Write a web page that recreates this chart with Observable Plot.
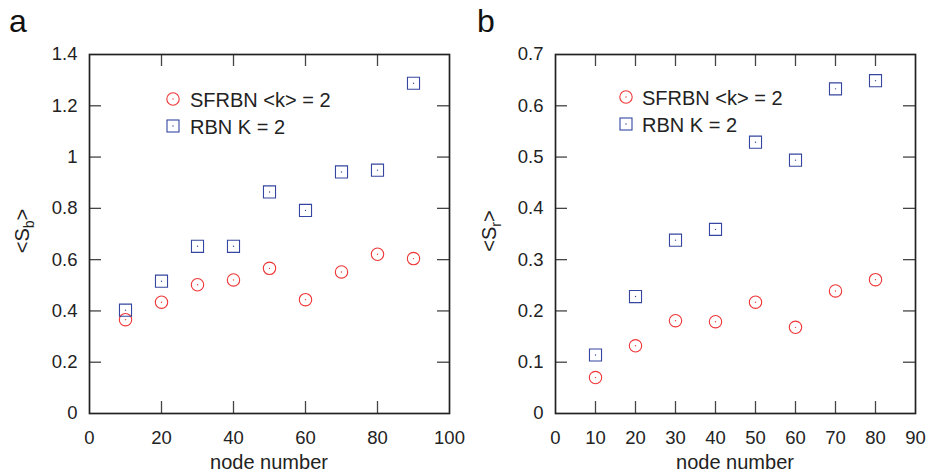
<!DOCTYPE html>
<html><head><meta charset="utf-8">
<script src="https://cdn.jsdelivr.net/npm/d3@7"></script>
<script src="https://cdn.jsdelivr.net/npm/@observablehq/plot@0.6"></script>
<style>
body{margin:0;background:#fff;}
#c{position:relative;width:927px;height:475px;font-family:"Liberation Sans",Arial,sans-serif;background:#fff;}
#c > svg{position:absolute;top:0;overflow:visible;}
</style></head><body><div id="c"></div>
<script>
// ---- data ----
const nodesA = [10, 20, 30, 40, 50, 60, 70, 80, 90];
const sfrbnA = [0.366, 0.434, 0.502, 0.521, 0.566, 0.444, 0.552, 0.621, 0.604];
const rbnA   = [0.403, 0.516, 0.652, 0.652, 0.864, 0.792, 0.942, 0.949, 1.288];

const nodesB = [10, 20, 30, 40, 50, 60, 70, 80];
const sfrbnB = [0.070, 0.132, 0.181, 0.179, 0.217, 0.168, 0.239, 0.261];
const rbnB   = [0.114, 0.228, 0.338, 0.359, 0.529, 0.494, 0.633, 0.649];

const xTicksA = [0, 20, 40, 60, 80, 100];
const yTicksA = [0, 0.2, 0.4, 0.6, 0.8, 1, 1.2, 1.4];
const xTicksB = [0, 10, 20, 30, 40, 50, 60, 70, 80, 90];
const yTicksB = [0, 0.1, 0.2, 0.3, 0.4, 0.5, 0.6, 0.7];

const seriesNames = ["SFRBN <k> = 2", "RBN K = 2"];
const seriesColors = ["#ee3535", "#3546a0"];
const xLabel = "node number";
const panelLetters = ["a", "b"];

const H = 475, MT = 54, MB = 62;
const fmt = d => String(+d.toFixed(2));

function panel({nodes, s1, s2, xDomain, yDomain, xTicks, yTicks, width, ml, mr}) {
  const iw = width - ml - mr, ih = H - MT - MB;
  const innerX = xTicks.slice(1, -1), innerY = yTicks.slice(1, -1);
  const d1 = nodes.map((x, i) => ({x, y: s1[i]}));
  const d2 = nodes.map((x, i) => ({x, y: s2[i]}));
  const tickStroke = "#444", tl = 12;
  return Plot.plot({
    width, height: H, marginLeft: ml, marginRight: mr, marginTop: MT, marginBottom: MB,
    style: {fontFamily: '"Liberation Sans", Arial, sans-serif', fontSize: "18.5px", color: "#222", background: "transparent", overflow: "visible"},
    x: {domain: xDomain},
    y: {domain: yDomain},
    marks: [
      Plot.ruleX(innerX, {x: d => d, insetTop: ih - tl, stroke: tickStroke, strokeWidth: 1.3}),
      Plot.ruleX(innerX, {x: d => d, insetBottom: ih - tl, stroke: tickStroke, strokeWidth: 1.3}),
      Plot.ruleY(innerY, {y: d => d, insetRight: iw - tl, stroke: tickStroke, strokeWidth: 1.3}),
      Plot.ruleY(innerY, {y: d => d, insetLeft: iw - tl, stroke: tickStroke, strokeWidth: 1.3}),
      Plot.frame({stroke: "#222", strokeWidth: 1.7}),
      Plot.axisX(xTicks, {anchor: "bottom", tickSize: 0, tickPadding: 17, tickFormat: fmt, label: null, fill: "#222"}),
      Plot.axisY(yTicks, {anchor: "left", tickSize: 0, tickPadding: 12, tickFormat: fmt, label: null, fill: "#222"}),
      Plot.dot(d1, {x: "x", y: "y", r: 6.2, symbol: "circle", stroke: seriesColors[0], strokeWidth: 1.1, fill: "none"}),
      Plot.dot(d1, {x: "x", y: "y", r: 0.7, fill: seriesColors[0]}),
      Plot.dot(d2, {x: "x", y: "y", r: 6.8, symbol: "square", stroke: seriesColors[1], strokeWidth: 1.1, fill: "none"}),
      Plot.dot(d2, {x: "x", y: "y", r: 0.7, fill: seriesColors[1]})
    ]
  });
}

const c = document.getElementById("c");
const pA = panel({nodes: nodesA, s1: sfrbnA, s2: rbnA, xDomain: [0, 100], yDomain: [0, 1.4],
  xTicks: xTicksA, yTicks: yTicksA, width: 463, ml: 89, mr: 14});
pA.style.left = "0px";
const pB = panel({nodes: nodesB, s1: sfrbnB, s2: rbnB, xDomain: [0, 90], yDomain: [0, 0.7],
  xTicks: xTicksB, yTicks: yTicksB, width: 464, ml: 92, mr: 12});
pB.style.left = "463px";
c.appendChild(pA);
c.appendChild(pB);

// ---- overlay: panel letters, axis titles, legends ----
const ov = d3.select(c).append("svg")
  .attr("width", 927).attr("height", H)
  .style("position", "absolute").style("left", "0px").style("top", "0px")
  .style("font-family", '"Liberation Sans", Arial, sans-serif').style("pointer-events", "none");

const panels = [
  {letterX: 9, yLabX: 29, sub: "b", xCenter: 269, legX: 173, legY: 99, textX: 190},
  {letterX: 477, yLabX: 496, sub: "r", xCenter: 735, legX: 626, legY: 97, textX: 642}
];
panels.forEach((p, i) => {
  ov.append("text").attr("x", p.letterX).attr("y", 32).attr("font-size", 32).attr("fill", "#111").text(panelLetters[i]);
  ov.append("text").attr("x", p.xCenter).attr("y", 469).attr("font-size", 20).attr("fill", "#222")
    .attr("text-anchor", "middle").text(xLabel);
  const t = ov.append("text").attr("transform", `translate(${p.yLabX},231) rotate(-90)`)
    .attr("font-size", 20).attr("fill", "#222").attr("text-anchor", "middle");
  t.append("tspan").text("<S");
  t.append("tspan").attr("font-size", 14).attr("dy", 5).text(p.sub);
  t.append("tspan").attr("dy", -5).text(">");
  // legend
  const rowH = 27;
  ov.append("circle").attr("cx", p.legX).attr("cy", p.legY).attr("r", 6.2)
    .attr("fill", "none").attr("stroke", seriesColors[0]).attr("stroke-width", 1.1);
  ov.append("circle").attr("cx", p.legX).attr("cy", p.legY).attr("r", 0.7).attr("fill", seriesColors[0]);
  ov.append("rect").attr("x", p.legX - 6).attr("y", p.legY + rowH - 6).attr("width", 12).attr("height", 12)
    .attr("fill", "none").attr("stroke", seriesColors[1]).attr("stroke-width", 1.1);
  ov.append("circle").attr("cx", p.legX).attr("cy", p.legY + rowH).attr("r", 0.7).attr("fill", seriesColors[1]);
  seriesNames.forEach((n, j) => {
    ov.append("text").attr("x", p.textX).attr("y", p.legY + 8 + j * rowH).attr("font-size", 20)
      .attr("fill", "#222").text(n);
  });
});
</script>
</body></html>
